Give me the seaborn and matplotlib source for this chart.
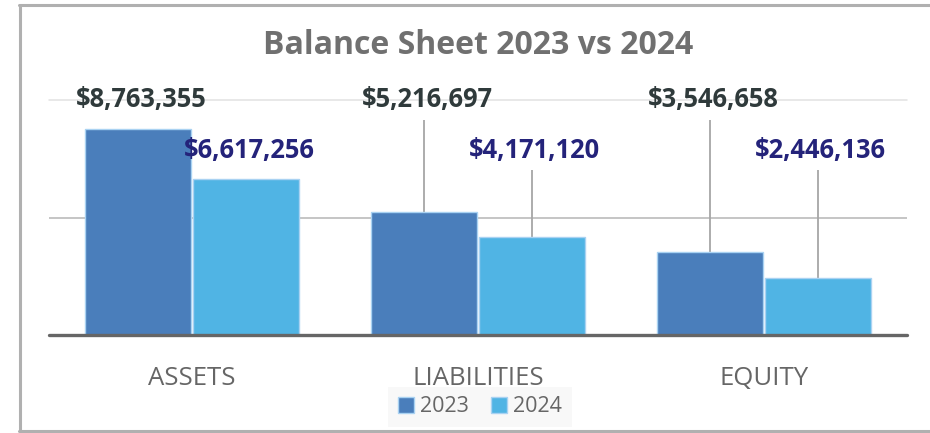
import matplotlib
matplotlib.use("Agg")
import matplotlib.pyplot as plt
from matplotlib.lines import Line2D
from matplotlib import font_manager as fm
import pandas as pd
import seaborn as sns

# ---- data ----
categories = ["ASSETS", "LIABILITIES", "EQUITY"]
years = ["2023", "2024"]
values_2023 = [8763355, 5216697, 3546658]
values_2024 = [6617256, 4171120, 2446136]
grid_values = [5_000_000, 10_000_000]
title = "Balance Sheet 2023 vs 2024"

colors = {"2023": "#4a7ebb", "2024": "#50b4e4"}
label_colors = {"2023": "#2f3a3b", "2024": "#24237a"}

df = pd.DataFrame({
    "category": categories * 2,
    "year": [years[0]] * 3 + [years[1]] * 3,
    "value": values_2023 + values_2024,
})

sns.set_style("white")
plt.rcParams["font.family"] = ["Open Sans", "DejaVu Sans"]

_bold_file = None
for f in fm.fontManager.ttflist:
    if f.fname.split("/")[-1] == "OpenSans-Bold.ttf":
        _bold_file = f.fname
        break


def bold_props(size):
    if _bold_file:
        return fm.FontProperties(fname=_bold_file, size=size)
    return fm.FontProperties(family="Open Sans", weight="bold", size=size)


fig = plt.figure(figsize=(9.3, 4.33), dpi=100)
W, H = 930, 433
ax = fig.add_axes([49 / W, 1 - 335 / H, (907 - 49) / W, (335 - 100) / H])

sns.barplot(data=df, x="category", y="value", hue="year", palette=colors,
            order=categories, hue_order=years, width=0.755, gap=0.02,
            edgecolor="#a9d2f2", linewidth=1, saturation=1, ax=ax, zorder=3)

ax.set_xlim(-0.5, len(categories) - 0.5)
ax.set_ylim(0, grid_values[-1])
for s in ax.spines.values():
    s.set_visible(False)
ax.set_yticks([])
ax.set_xlabel("")
ax.set_ylabel("")
ax.tick_params(axis="x", length=0, pad=22, labelsize=18.5, labelcolor="#666666")

# gridlines
ax.axhline(grid_values[0], color="#b5b5b5", lw=1.1, zorder=1)
ax.axhline(grid_values[1], color="#e2e2e2", lw=1.1, zorder=1, clip_on=False)
# baseline
ax.axhline(0, color="#666666", lw=2.4, zorder=4, clip_on=False)

# value labels with leader lines
label_y = {"2023": 10_000_000, "2024": 7_830_000}
line_top = {"2023": 9_150_000, "2024": 7_020_000}
series_vals = {"2023": values_2023, "2024": values_2024}
lab_fp = bold_props(18.4)
for cont, yr in zip(ax.containers, years):
    for bar, v in zip(cont, series_vals[yr]):
        cx = bar.get_x() + bar.get_width() / 2
        ax.text(cx + 0.01, label_y[yr], f"${v:,.0f}", ha="center", va="center",
                fontproperties=lab_fp, color=label_colors[yr],
                clip_on=False, zorder=5)
        if line_top[yr] - v > 1_500_000:
            ax.vlines(cx, v, line_top[yr], color="#a6a6a6", lw=1.3, zorder=2)

# title
fig.text(478 / W, 1 - 46 / H, title, ha="center", va="center",
         fontproperties=bold_props(23), color="#707070")

# legend
handles, labels = ax.get_legend_handles_labels()
if ax.get_legend() is not None:
    ax.get_legend().remove()
leg = fig.legend(handles, labels, loc="center",
                 bbox_to_anchor=(480 / W, 1 - 407 / H), ncol=2,
                 frameon=True, fancybox=False, fontsize=15.5,
                 handlelength=0.75, handleheight=0.75, handletextpad=0.3,
                 columnspacing=1.0, borderpad=0.45)
leg.get_frame().set_facecolor("#f7f7f7")
leg.get_frame().set_edgecolor("none")
for t in leg.get_texts():
    t.set_color("#666666")
for h in leg.legend_handles:
    h.set_edgecolor("#a9d2f2")

# outer border (left, top, bottom)
bc = "#b0b0b0"
fig.add_artist(Line2D([20 / W, 20 / W], [1 - 4.5 / H, 1 - 431 / H], color=bc, lw=2.2,
                      transform=fig.transFigure))
fig.add_artist(Line2D([19 / W, 1], [1 - 4.5 / H, 1 - 4.5 / H], color=bc, lw=2.2,
                      transform=fig.transFigure))
fig.add_artist(Line2D([19 / W, 1], [1 - 431 / H, 1 - 431 / H], color=bc, lw=2.2,
                      transform=fig.transFigure))

fig.savefig("out.png", dpi=100)
